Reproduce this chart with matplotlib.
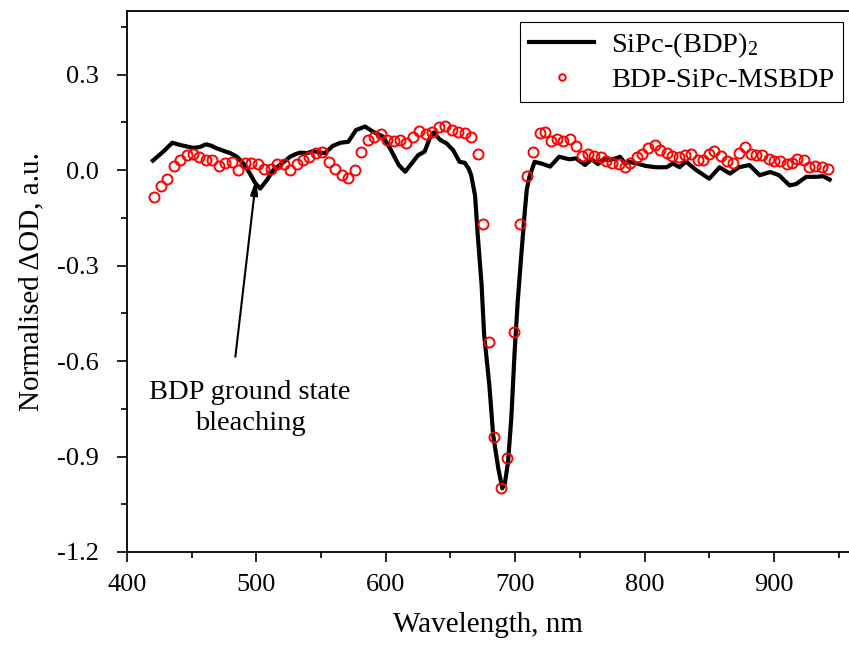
import matplotlib
matplotlib.use("Agg")
import matplotlib.pyplot as plt
from matplotlib.ticker import MultipleLocator

plt.rcParams['font.family'] = ['Liberation Serif', 'DejaVu Serif']
plt.rcParams['mathtext.fontset'] = 'custom'
plt.rcParams['mathtext.rm'] = 'Liberation Serif'
plt.rcParams['mathtext.it'] = 'Liberation Serif:italic'

# SiPc-(BDP)2 transient spectrum (black line)
line_wl = [420, 428, 435, 441, 451, 456, 461, 465, 469, 475, 480, 485, 490, 495,
           499, 503, 508, 513, 518, 522, 526, 530, 534, 539, 544, 549, 553, 559,
           565, 571, 577, 584, 590, 598, 604, 610, 615, 620, 625, 630, 634, 637,
           642, 647, 652, 657, 661, 664, 666, 669, 671, 674, 676, 680, 683, 687,
           690, 692, 694.5, 697, 699.6, 702, 705, 707.5, 709, 711, 715, 720, 727,
           734, 742, 747, 754, 759, 764, 768, 773, 778, 781, 785, 788, 794, 801,
           809, 817, 822, 827, 832, 840, 850, 858, 866, 873, 881, 889, 897, 904,
           912, 917, 925, 933, 938, 943]
line_val = [0.030, 0.058, 0.086, 0.079, 0.070, 0.072, 0.081, 0.077, 0.069, 0.060,
            0.053, 0.042, 0.021, -0.011, -0.040, -0.058, -0.032, 0.000, 0.016,
            0.028, 0.042, 0.050, 0.055, 0.053, 0.060, 0.055, 0.053, 0.076, 0.086,
            0.089, 0.126, 0.137, 0.121, 0.105, 0.063, 0.016, -0.005, 0.021, 0.047,
            0.058, 0.100, 0.118, 0.095, 0.084, 0.063, 0.026, 0.023, 0.005, -0.016,
            -0.080, -0.200, -0.358, -0.516, -0.674, -0.833, -0.938, -1.000, -0.985,
            -0.917, -0.780, -0.569, -0.411, -0.253, -0.127, -0.060, -0.021, 0.026,
            0.021, 0.011, 0.042, 0.034, 0.037, 0.016, 0.034, 0.019, 0.034, 0.032,
            0.037, 0.042, 0.021, 0.026, 0.021, 0.013, 0.009, 0.009, 0.021, 0.009,
            0.027, 0.000, -0.027, 0.009, -0.011, 0.009, 0.016, -0.016, -0.006,
            -0.016, -0.048, -0.044, -0.021, -0.021, -0.019, -0.030]

# BDP-SiPc-MSBDP transient spectrum (red circles)
dot_wl = [421, 426, 431, 436, 441, 446, 451, 456, 461, 466, 471, 476, 481, 486,
          491, 496, 501, 506, 511, 516, 521, 526, 531, 536, 541, 546, 551, 556,
          561, 566, 571, 576, 581, 586, 591, 596, 601, 606, 611, 616, 621, 626,
          631, 636, 641, 646, 651, 656, 661, 666, 671, 675, 680, 684, 689, 694,
          699, 704, 709, 714, 719, 723, 728, 732, 737, 742, 747, 752, 756, 761,
          766, 770, 775, 780, 785, 789, 794, 798, 803, 808, 812, 817, 821, 827,
          831, 836, 841, 845, 850, 854, 859, 864, 868, 873, 878, 882, 886, 891,
          896, 900, 905, 910, 914, 918, 923, 927, 932, 937, 942]
dot_val = [-0.085, -0.049, -0.028, 0.012, 0.033, 0.046, 0.052, 0.042, 0.032,
           0.032, 0.013, 0.021, 0.027, 0.000, 0.021, 0.021, 0.018, 0.002, 0.005,
           0.018, 0.018, 0.000, 0.018, 0.032, 0.042, 0.053, 0.058, 0.027, 0.005,
           -0.016, -0.026, 0.000, 0.058, 0.096, 0.105, 0.113, 0.095, 0.093, 0.095,
           0.084, 0.103, 0.124, 0.113, 0.120, 0.136, 0.140, 0.126, 0.120, 0.118,
           0.103, 0.052, -0.168, -0.540, -0.838, -1.000, -0.904, -0.508, -0.168,
           -0.019, 0.058, 0.116, 0.120, 0.092, 0.097, 0.090, 0.097, 0.076, 0.045,
           0.050, 0.043, 0.040, 0.029, 0.021, 0.020, 0.009, 0.021, 0.040, 0.051,
           0.071, 0.078, 0.064, 0.054, 0.043, 0.042, 0.046, 0.050, 0.033, 0.033,
           0.051, 0.059, 0.045, 0.030, 0.021, 0.053, 0.072, 0.050, 0.048, 0.046,
           0.036, 0.028, 0.028, 0.018, 0.022, 0.036, 0.031, 0.009, 0.013, 0.010,
           0.003]

fig = plt.figure(figsize=(8.49, 6.46), dpi=100)
ax = fig.add_axes([127 / 849, 94 / 646, 722 / 849, 541 / 646])

ax.plot(line_wl, line_val, color='black', linewidth=3.0,
        solid_joinstyle='round', label='SiPc-(BDP)$_2$', zorder=2)
ax.plot(dot_wl, dot_val, linestyle='none', marker='o', markersize=7.2,
        markerfacecolor='none', markeredgecolor='red', markeredgewidth=1.4,
        label='BDP-SiPc-MSBDP', zorder=3)

ax.set_xlim(400, 958)
ax.set_ylim(-1.2, 0.5)
ax.xaxis.set_major_locator(MultipleLocator(100))
ax.xaxis.set_minor_locator(MultipleLocator(50))
ax.set_yticks([-1.2, -0.9, -0.6, -0.3, 0.0, 0.3])
ax.yaxis.set_minor_locator(MultipleLocator(0.15))
ax.set_yticklabels(['-1.2', '-0.9', '-0.6', '-0.3', '0.0', '0.3'])
ax.tick_params(which='major', direction='out', length=7, width=1.2, labelsize=19)
ax.tick_params(which='minor', direction='out', length=4.5, width=1.2)
ax.tick_params(axis='y', which='major', pad=13)
ax.tick_params(axis='x', which='major', pad=9)
ax.tick_params(top=False, right=False)
ax.spines['right'].set_visible(False)
for s in ['left', 'bottom', 'top']:
    ax.spines[s].set_linewidth(1.3)

ax.set_xlabel('Wavelength, nm', fontsize=21, labelpad=11)
ax.set_ylabel('Normalised \u0394OD, a.u.', fontsize=21, labelpad=9)

leg = ax.legend(loc='upper right', bbox_to_anchor=(843 / 849, 624 / 646),
                bbox_transform=fig.transFigure, fontsize=20.5, frameon=True,
                fancybox=False, framealpha=1, edgecolor='black',
                handlelength=2.3, markerscale=0.65, borderpad=0.3,
                labelspacing=0.25, handletextpad=0.6, borderaxespad=0)
leg.get_frame().set_linewidth(0.8)

ax.annotate('', xy=(500, -0.02), xytext=(483.5, -0.595),
            arrowprops=dict(arrowstyle='-|>,head_length=0.9,head_width=0.22',
                            color='black', lw=1.5))
ax.text(495, -0.748, 'BDP ground state\nbleaching', fontsize=20.5,
        ha='center', va='center', linespacing=1.35)

fig.savefig('out.png', dpi=100)
